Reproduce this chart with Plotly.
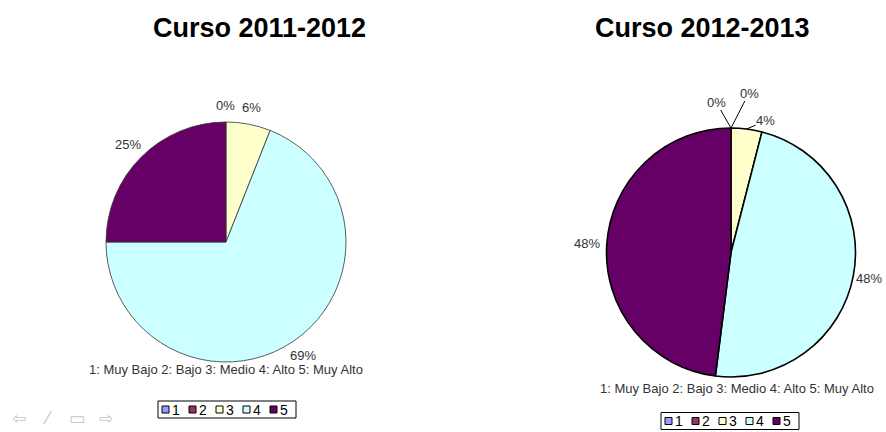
import math
import plotly.graph_objects as go

W, H = 886, 432

categories = ["1", "2", "3", "4", "5"]
values_2011 = [0, 0, 6, 69, 25]
values_2012 = [0, 0, 4, 48, 48]
titles = ["Curso 2011-2012", "Curso 2012-2013"]
caption = "1: Muy Bajo 2: Bajo 3: Medio 4: Alto 5: Muy Alto"
colors = ["#9999FF", "#993366", "#FFFFCC", "#CCFFFF", "#660066"]

FONT = "Liberation Sans, Arial, sans-serif"
LABEL_COLOR = "#333333"

# layout of each panel, in window pixels
panels = [
    dict(vals=values_2011, box=(106, 346, 122, 362), line=("#333333", 0.8),
         title=(259, 28.5), cap=(226, 369.5), leg=(162, 409.5), label_r=(1.14, 1.15)),
    dict(vals=values_2012, box=(606, 856, 128, 377), line=("#000000", 1.6),
         title=(702.5, 28.5), cap=(736.5, 388), leg=(665, 421), label_r=(1.13, 1.16)),
]
# leader-line label offsets (px) for the small slices of the second chart
small_offsets = {0: (-15, -26), 1: (18, -35), 2: (19, -8)}


def pp(x, y):
    """window pixel -> paper coords"""
    return x / W, 1 - y / H


fig = go.Figure()
annotations, shapes = [], []


def text(x, y, s, size=13, color=LABEL_COLOR, xanchor="center", family=FONT, **kw):
    X, Y = pp(x, y)
    annotations.append(dict(x=X, y=Y, xref="paper", yref="paper", text=s,
                            xanchor=xanchor, yanchor="middle", showarrow=False,
                            borderpad=0,
                            font=dict(size=size, color=color, family=family), **kw))


for i, p in enumerate(panels):
    x0, x1, yt, yb = p["box"]
    dx0, dy1 = pp(x0, yt)
    dx1, dy0 = pp(x1, yb)
    fig.add_trace(go.Pie(
        labels=categories, values=p["vals"], sort=False, direction="clockwise",
        rotation=0, textinfo="none", hoverinfo="label+percent", showlegend=False,
        marker=dict(colors=colors, line=dict(color=p["line"][0], width=p["line"][1])),
        domain=dict(x=[dx0, dx1], y=[dy0, dy1]),
    ))
    cx, cy = (x0 + x1) / 2, (yt + yb) / 2
    r = min(x1 - x0, yb - yt) / 2
    total = sum(p["vals"])
    cum = 0
    for k, v in enumerate(p["vals"]):
        th = 2 * math.pi * (cum + v / 2) / total
        cum += v
        pct = f"{round(100 * v / total)}%"
        # right half labels use the first factor, left half the second
        d = r * (p["label_r"][0] if math.sin(th) >= 0 else p["label_r"][1])
        if i == 0:
            if k == 1:
                continue  # the two 0% labels coincide on the first chart
            text(cx + d * math.sin(th), cy - d * math.cos(th), pct)
        elif v / total < 0.05:
            ex, ey = cx + r * math.sin(th), cy - r * math.cos(th)
            X, Y = pp(ex, ey)
            ax, ay = small_offsets[k]
            annotations.append(dict(x=X, y=Y, xref="paper", yref="paper", text=pct,
                                    showarrow=True, arrowhead=0, arrowwidth=1,
                                    arrowcolor="#000000", ax=ax, ay=ay, borderpad=0,
                                    font=dict(size=13, color=LABEL_COLOR, family=FONT)))
        else:
            text(cx + d * math.sin(th), cy - d * math.cos(th), pct)

    # title and caption
    text(*p["title"], f"<b>{titles[i]}</b>", size=27, color="#000000")
    text(*p["cap"], caption, size=13)

    # legend (drawn by hand: boxed row of swatches)
    lx, ly = p["leg"]
    pitch = 27
    bx0, by0 = pp(lx - 4, ly - 8.5)
    bx1, by1 = pp(lx + pitch * len(categories) - 4 + 3, ly + 8.5)
    shapes.append(dict(type="rect", xref="paper", yref="paper", x0=bx0, x1=bx1,
                       y0=by0, y1=by1, line=dict(color="#000000", width=1),
                       fillcolor="#FFFFFF", layer="below"))
    for k, cat in enumerate(categories):
        sx = lx + k * pitch
        a0, b0 = pp(sx, ly - 3.5)
        a1, b1 = pp(sx + 7, ly + 3.5)
        shapes.append(dict(type="rect", xref="paper", yref="paper", x0=a0, x1=a1,
                           y0=b0, y1=b1, line=dict(color="#000000", width=1),
                           fillcolor=colors[k]))
        text(sx + 9, ly, cat, size=14, color="#000000", xanchor="left")

# navigation icons of the slideshow viewer
for s, x in zip(["⇦", "⁄", "▭", "⇨"], [19, 47, 77, 106]):
    text(x, 418, s, size=17, color="#C8C8C8", family="DejaVu Sans")

fig.update_layout(
    width=W, height=H, margin=dict(l=0, r=0, t=0, b=0),
    paper_bgcolor="#FFFFFF", plot_bgcolor="#FFFFFF",
    annotations=annotations, shapes=shapes, showlegend=False,
)

fig.write_html(
    "out.html",
    config={"displayModeBar": False},
    post_script="document.body.style.margin='0';document.body.style.overflow='hidden';",
)
